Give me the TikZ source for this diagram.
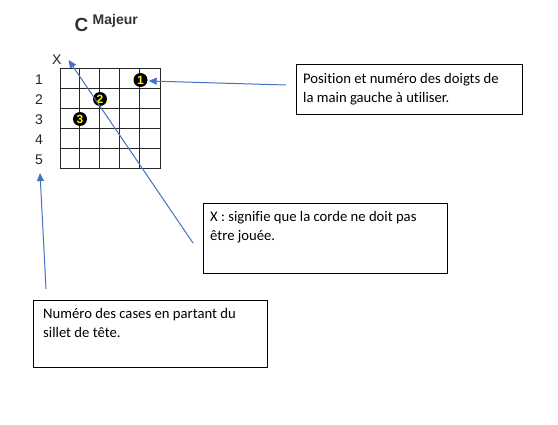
\documentclass[tikz,border=0pt]{standalone}
\usepackage{fontspec}
\setmainfont{Carlito}[RawFeature=-liga]
\newfontfamily\arialf{Liberation Sans}
\usetikzlibrary{arrows.meta,calc}
\definecolor{arrblue}{HTML}{4472C4}
\definecolor{titlegrey}{HTML}{333333}
\tikzset{
  arr/.style={draw=arrblue, line width=1pt, -{Triangle[length=8pt,width=7pt]}},
  gridline/.style={draw=black!85, line width=1pt},
  fingerdot/.style={circle, fill=black, minimum size=14pt, inner sep=0pt,
    text=yellow, font=\arialf\bfseries\fontsize{12}{12}\selectfont},
  numlabel/.style={inner sep=0pt, font=\arialf\fontsize{14}{14}\selectfont, text=black!85},
  infobox/.style={draw=black, line width=1pt, inner sep=0pt, anchor=north west},
  infotext/.style={inner sep=0pt, anchor=north west, align=left,
    font=\fontsize{14.67}{19.5}\selectfont}
}
\begin{document}
\begin{tikzpicture}[x=1pt,y=-1pt]
\useasboundingbox[fill=white] (0,0) rectangle (558,425);
% title
\node[inner sep=0pt, anchor=base, text=titlegrey, font=\arialf\bfseries\fontsize{19}{19}\selectfont] (tc) at (81.5,32) {C};
\node[inner sep=0pt, anchor=base west, text=titlegrey, font=\arialf\bfseries\fontsize{14}{14}\selectfont] (tm) at (92.5,25) {Majeur};
% fretboard
\node[gridline, draw, minimum width=100pt, minimum height=100pt, inner sep=0pt] (fret) at (110,119) {};
\foreach \i in {1,...,4}{
  \draw[gridline] ($(fret.north west)+(20*\i,0)$) -- ($(fret.south west)+(20*\i,0)$);
  \draw[gridline] ($(fret.north west)+(0,20*\i)$) -- ($(fret.north east)+(0,20*\i)$);
}
% labels
\node[numlabel] (lx) at (56.7,60) {X};
\foreach \n in {1,...,5}{
  \node[numlabel] (l\n) at (39,60+20*\n) {\n};
}
% finger dots
\node[fingerdot] (d1) at (140.5,80) {1};
\node[fingerdot] (d2) at (100,99) {2};
\node[fingerdot] (d3) at (80,119) {3};
% boxes
\node[infobox, minimum width=226pt, minimum height=50pt] (box1) at (296,64) {};
\node[infotext] (t1) at ($(box1.north west)+(7,7)$) {\rule{0pt}{12pt}Position et numéro des doigts de\\la main gauche à utiliser.};
\node[infobox, minimum width=244pt, minimum height=70pt] (box2) at (203,203) {};
\node[infotext] (t2) at ($(box2.north west)+(7,6)$) {\rule{0pt}{12pt}X : signifie que la corde ne doit pas\\être jouée.};
\node[infobox, minimum width=234pt, minimum height=67pt] (box3) at (33,300) {};
\node[infotext] (t3) at ($(box3.north west)+(10,6)$) {\rule{0pt}{12pt}Numéro des cases en partant du\\sillet de tête.};
% arrows
\coordinate (a1) at ($(box1.north west)+(-10,21)$);
\coordinate (a2) at ($(box2.north west)+(-10,40)$);
\coordinate (a3) at ($(box3.north west)+(13,-11)$);
\draw[arr] (a1) -- ($(d1.east)+(1,1)$);
\draw[arr] (a2) -- ($(lx.east)+(7,0)$);
\draw[arr] (a3) -- ($(l5.south)+(1,8)$);
\end{tikzpicture}
\end{document}
